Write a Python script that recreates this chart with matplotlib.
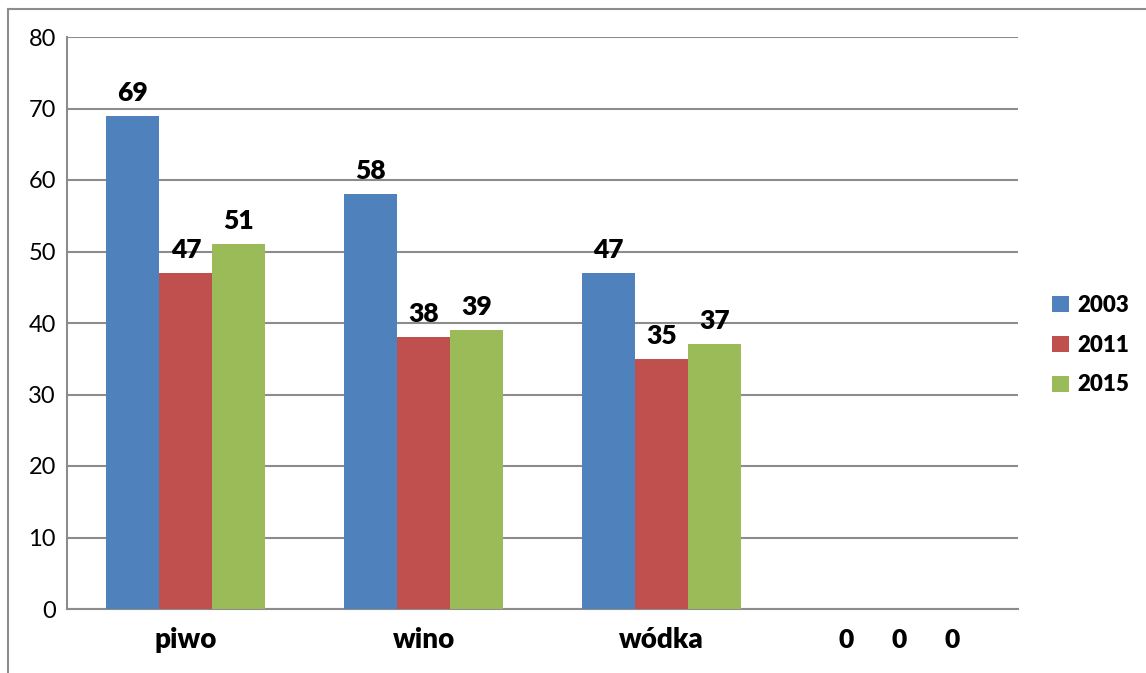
import numpy as np
import matplotlib.pyplot as plt
from matplotlib.lines import Line2D

categories = ["piwo", "wino", "wódka", ""]
years = ["2003", "2011", "2015"]
values_2003 = [69, 58, 47, 0]
values_2011 = [47, 38, 35, 0]
values_2015 = [51, 39, 37, 0]
colors = ["#4F81BD", "#C0504D", "#9BBB59"]

plt.rcParams['font.family'] = ['Lato', 'DejaVu Sans']

W, H = 1146, 673
fig = plt.figure(figsize=(W / 100, H / 100), dpi=100)
ax = fig.add_axes([67 / W, 1 - 609 / H, (1018 - 67) / W, (609 - 37) / H])

x = np.arange(len(categories))
bw = 0.2229
series = [values_2003, values_2011, values_2015]
for i, (vals, col, yr) in enumerate(zip(series, colors, years)):
    pos = x + (i - 1) * bw
    ax.bar(pos, vals, bw, color=col, label=yr, zorder=3)
    for p, v in zip(pos, vals):
        if v > 0:
            ax.annotate(str(v), (p, v), xytext=(0, 8), textcoords="offset points",
                        ha="center", va="bottom", fontsize=19, fontweight="heavy")
        else:
            ax.text(p, -0.055, str(v), transform=ax.get_xaxis_transform(),
                    ha="center", va="center", fontsize=19, fontweight="heavy")

ax.set_xlim(-0.5, len(categories) - 0.5)
ax.set_ylim(0, 80)
ax.set_yticks(range(0, 81, 10))
ax.set_xticks(x)
ax.set_xticklabels(categories, fontsize=20, fontweight="heavy")
ax.tick_params(axis="x", length=0, pad=13)
ax.tick_params(axis="y", length=0, pad=8, labelsize=17)
ax.yaxis.grid(True, color="#8c8c8c", linewidth=1.5, zorder=0)
for s in ["top", "right"]:
    ax.spines[s].set_visible(False)
for s in ["left", "bottom"]:
    ax.spines[s].set_color("#8c8c8c")
    ax.spines[s].set_linewidth(1.5)

leg = fig.legend(loc="center left", bbox_to_anchor=(1032 / W, 1 - 345 / H),
                 frameon=False, prop={"size": 16, "weight": "heavy"},
                 handlelength=0.75, handleheight=0.75, handletextpad=0.4,
                 labelspacing=0.85)

# outer chart frame
fig.add_artist(Line2D([8 / W, 8 / W], [0, 1 - 9 / H], color="#8c8c8c", lw=1.5))
fig.add_artist(Line2D([8 / W, 1], [1 - 9 / H, 1 - 9 / H], color="#8c8c8c", lw=1.5))

fig.savefig("out.png", dpi=100)
